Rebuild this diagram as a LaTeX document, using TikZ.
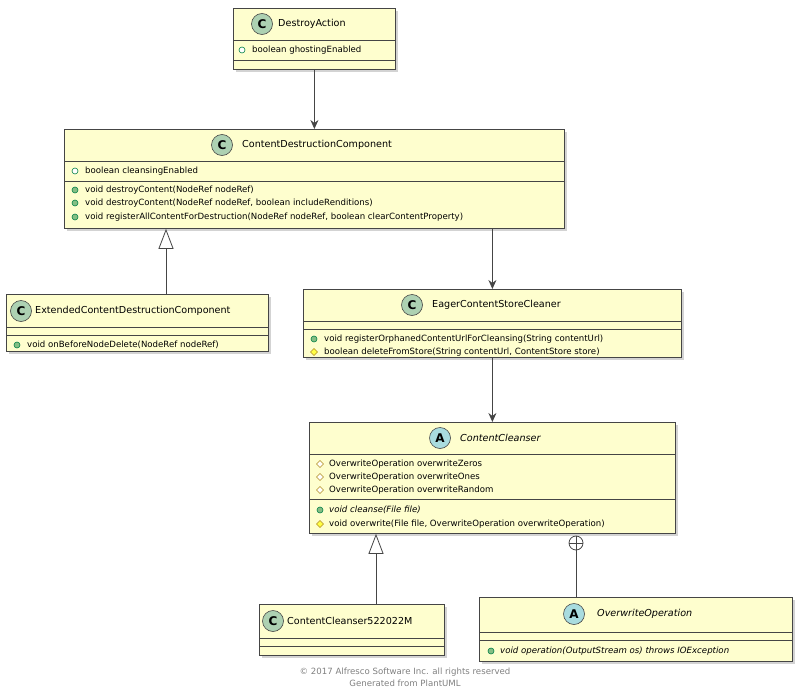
\documentclass[tikz,border=0pt]{standalone}
\usepackage{fontspec}
\setmainfont{DejaVu Sans}
\usepackage{tikz}
\usetikzlibrary{arrows.meta,shadows}

\definecolor{boxfill}{HTML}{FEFECE}
\definecolor{boxline}{HTML}{A80036}
\definecolor{edge}{HTML}{454545}
\definecolor{cbadge}{HTML}{ADD1B2}
\definecolor{abadge}{HTML}{A9DCDF}
\definecolor{pubg}{HTML}{84BE84}
\definecolor{pubd}{HTML}{038048}
\definecolor{proty}{HTML}{FFFF44}
\definecolor{protd}{HTML}{B38D22}

\tikzset{
  umlbox/.style={draw=edge,fill=boxfill,line width=0.8pt,rectangle,inner sep=0pt,
    anchor=north west,drop shadow={shadow xshift=3pt,shadow yshift=-3pt,opacity=0.35}},
  mem/.style={anchor=west,inner sep=0pt,font=\fontsize{8.6}{10}\selectfont},
  ttl/.style={anchor=west,inner sep=0pt,font=\fontsize{9.6}{11}\selectfont},
  badge/.style={circle,draw=edge,line width=0.6pt,minimum size=21pt,inner sep=0pt,
    font=\fontsize{12}{12}\selectfont\bfseries},
  dep/.style={draw=edge,line width=0.8pt,-{Stealth[length=9pt,width=8pt,inset=3pt]}},
  ext/.style={draw=edge,line width=0.8pt,-{Triangle[open,length=20pt,width=15pt,fill=white]}},
}

% public field / method, protected field / method
\newcommand\pubf[1]{\draw[pubd,line width=0.6pt,fill=white] (#1) circle(3);}
\newcommand\pubm[1]{\draw[pubd,line width=0.6pt,fill=pubg] (#1) circle(3);}
\newcommand\protf[1]{\draw[protd,line width=0.6pt,fill=white] ($(#1)+(-3.5,0)$) -- ++(3.5,-3.5) -- ++(3.5,3.5) -- ++(-3.5,3.5) -- cycle;}
\newcommand\protm[1]{\draw[protd,line width=0.6pt,fill=proty] ($(#1)+(-3.5,0)$) -- ++(3.5,-3.5) -- ++(3.5,3.5) -- ++(-3.5,3.5) -- cycle;}
\usetikzlibrary{calc}

\begin{document}
\begin{tikzpicture}[x=1pt,y=-1pt]
\useasboundingbox (0,0) rectangle (799,698);

% DestroyAction
\node[umlbox,minimum width=162pt,minimum height=61pt] (destroy) at (233,8) {};
\draw[edge,line width=0.8pt] (233,40) -- (395,40) (233,60) -- (395,60);
\node[badge,fill=cbadge] at (262,24) {C};
\node[ttl] at (278,24) {DestroyAction};
\pubf{242,50} \node[mem] at (252,50) {boolean ghostingEnabled};

% ContentDestructionComponent
\node[umlbox,minimum width=500pt,minimum height=99pt] (cdc) at (64,129) {};
\draw[edge,line width=0.8pt] (64,161) -- (564,161) (64,181) -- (564,181);
\node[badge,fill=cbadge] at (222,145) {C};
\node[ttl] at (242,145) {ContentDestructionComponent};
\pubf{75,171} \node[mem] at (85,171) {boolean cleansingEnabled};
\pubm{75,190} \node[mem] at (85,190) {void destroyContent(NodeRef nodeRef)};
\pubm{75,203} \node[mem] at (85,203) {void destroyContent(NodeRef nodeRef, boolean includeRenditions)};
\pubm{75,217} \node[mem] at (85,217) {void registerAllContentForDestruction(NodeRef nodeRef, boolean clearContentProperty)};

% ExtendedContentDestructionComponent
\node[umlbox,minimum width=262pt,minimum height=57pt] (ecdc) at (6,294) {};
\draw[edge,line width=0.8pt] (6,327) -- (268,327) (6,335) -- (268,335);
\node[badge,fill=cbadge] at (21,311) {C};
\node[ttl] at (35,311) {ExtendedContentDestructionComponent};
\pubm{17,345} \node[mem] at (27,345) {void onBeforeNodeDelete(NodeRef nodeRef)};

% EagerContentStoreCleaner
\node[umlbox,minimum width=378pt,minimum height=68pt] (eager) at (303,289) {};
\draw[edge,line width=0.8pt] (303,321) -- (681,321) (303,329) -- (681,329);
\node[badge,fill=cbadge] at (412,305) {C};
\node[ttl] at (432,305) {EagerContentStoreCleaner};
\pubm{314,339} \node[mem] at (324,339) {void registerOrphanedContentUrlForCleansing(String contentUrl)};
\protm{314,352} \node[mem] at (324,352) {boolean deleteFromStore(String contentUrl, ContentStore store)};

% ContentCleanser
\node[umlbox,minimum width=366pt,minimum height=111pt] (cleanser) at (309,422) {};
\draw[edge,line width=0.8pt] (309,454) -- (675,454) (309,499) -- (675,499);
\node[badge,fill=abadge] at (440,438) {A};
\node[ttl,font=\fontsize{9.6}{11}\selectfont\itshape] at (460,438) {ContentCleanser};
\protf{320,464} \node[mem] at (329,464) {OverwriteOperation overwriteZeros};
\protf{320,477} \node[mem] at (329,477) {OverwriteOperation overwriteOnes};
\protf{320,490} \node[mem] at (329,490) {OverwriteOperation overwriteRandom};
\pubm{320,510} \node[mem,font=\fontsize{8.6}{10}\selectfont\itshape] at (329,510) {void cleanse(File file)};
\protm{320,524} \node[mem] at (329,524) {void overwrite(File file, OverwriteOperation overwriteOperation)};

% ContentCleanser522022M
\node[umlbox,minimum width=185pt,minimum height=51pt] (cc522) at (259,604) {};
\draw[edge,line width=0.8pt] (259,638) -- (444,638) (259,646) -- (444,646);
\node[badge,fill=abadge!0!cbadge] at (273,621) {C};
\node[ttl] at (287,621) {ContentCleanser522022M};

% OverwriteOperation
\node[umlbox,minimum width=313pt,minimum height=64pt] (overwrite) at (479,597) {};
\draw[edge,line width=0.8pt] (479,632) -- (792,632) (479,640) -- (792,640);
\node[badge,fill=abadge] at (574,614) {A};
\node[ttl,font=\fontsize{9.6}{11}\selectfont\itshape] at (597,614) {OverwriteOperation};
\pubm{491,651} \node[mem,font=\fontsize{8.6}{10}\selectfont\itshape] at (500,651) {void operation(OutputStream os) throws IOException};

% connectors
\draw[dep] (destroy.south) -- (cdc.north -| destroy.south);
\draw[dep] (cdc.south -| eager.north) -- (eager.north);
\draw[dep] (eager.south -| cleanser.north) -- (cleanser.north);
\draw[ext] (ecdc.north -| 166,0) -- (cdc.south -| 166,0);
\draw[ext] (cc522.north -| 376,0) -- (cleanser.south -| 376,0);
\coordinate (nest) at (576,543);
\draw[edge,line width=0.8pt] (overwrite.north -| nest) -- ($(nest)+(0,7)$);
\draw[edge,line width=0.8pt,fill=white] (nest) circle(7);
\draw[edge,line width=0.8pt] ($(nest)+(-7,0)$) -- ($(nest)+(7,0)$) ($(nest)+(0,-7)$) -- ($(nest)+(0,7)$);

% footer
\node[inner sep=0pt,align=center,text=gray,font=\fontsize{8.6}{12}\selectfont] (footer) at (405,677)
  {© 2017 Alfresco Software Inc. all rights reserved\\Generated from PlantUML};
\end{tikzpicture}
\end{document}
